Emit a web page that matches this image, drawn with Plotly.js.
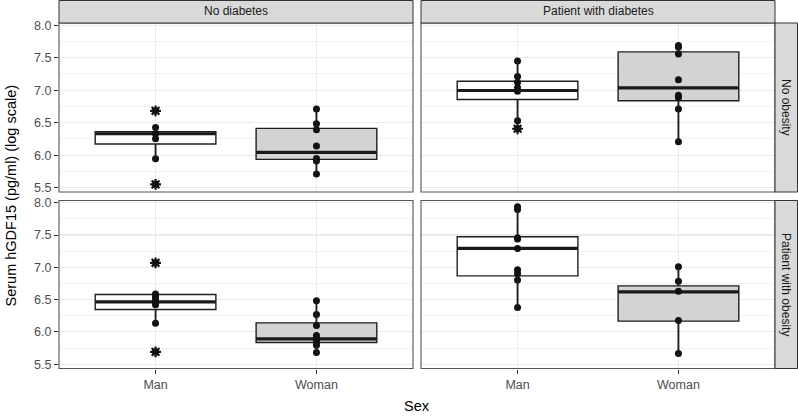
<!DOCTYPE html>
<html>
<head>
<meta charset="utf-8">
<script src="https://cdn.plot.ly/plotly-3.0.1.min.js"></script>
<style>html,body{margin:0;padding:0;background:#fff;}#chart{width:798px;height:416px;}</style>
</head>
<body>
<div id="chart"></div>
<script>
// ---------- data ----------
const sexes = ['Man', 'Woman'];
const diabetesGroups = ['No diabetes', 'Patient with diabetes'];
const obesityGroups = ['No obesity', 'Patient with obesity'];
const yTickValues = [5.5, 6.0, 6.5, 7.0, 7.5, 8.0];

// individual observations, per facet and sex
const noDiabNoObesMan   = [6.683, 6.427, 6.330, 6.253, 5.945, 5.551];
const noDiabNoObesWoman = [6.709, 6.483, 6.391, 6.140, 5.950, 5.910, 5.710];
const diabNoObesMan     = [7.451, 7.211, 7.124, 7.037, 6.986, 6.530, 6.407];
const diabNoObesWoman   = [7.688, 7.662, 7.559, 7.160, 6.924, 6.889, 6.709, 6.207];
const noDiabObesMan     = [7.070, 6.585, 6.555, 6.520, 6.476, 6.440, 6.419, 6.135, 5.690];
const noDiabObesWoman   = [6.481, 6.270, 6.100, 5.945, 5.910, 5.870, 5.830, 5.795, 5.681];
const diabObesMan       = [7.938, 7.897, 7.460, 7.437, 7.290, 6.962, 6.905, 6.802, 6.378];
const diabObesWoman     = [7.008, 6.786, 6.631, 6.177, 5.665];

// box statistics, same order as the groups above
const boxQ1     = [6.171, 5.936, 6.858, 6.837, 6.347, 5.836, 6.868, 6.166];
const boxMedian = [6.330, 6.043, 6.996, 7.037, 6.465, 5.892, 7.293, 6.620];
const boxQ3     = [6.361, 6.412, 7.139, 7.590, 6.580, 6.140, 7.473, 6.713];
const boxLower  = [5.945, 5.710, 6.530, 6.207, 6.135, 5.681, 6.378, 5.665];
const boxUpper  = [6.427, 6.709, 7.451, 7.688, 6.585, 6.481, 7.938, 7.008];

const groupPoints = [noDiabNoObesMan, noDiabNoObesWoman, diabNoObesMan, diabNoObesWoman,
                     noDiabObesMan, noDiabObesWoman, diabObesMan, diabObesWoman];

// ---------- styling ----------
const W = 798, H = 416;
const FONT = 'Liberation Sans, Arial, Helvetica, sans-serif';
const px = v => v / W;
const py = v => 1 - v / H;
const colL = [59, 413], colR = [421, 775];
const rowT = [23, 192], rowB = [200.5, 368.5];
const panels = [
  {xa: 'x',  ya: 'y',  col: colL, row: rowT},
  {xa: 'x2', ya: 'y2', col: colR, row: rowT},
  {xa: 'x3', ya: 'y3', col: colL, row: rowB},
  {xa: 'x4', ya: 'y4', col: colR, row: rowB}
];
const fills = ['#ffffff', '#d3d3d3'];
const boxWidth = 0.75;
const inkLine = '#1e1e1e';

const traces = [];
const shapes = [];
const annotations = [];

groupPoints.forEach((pts, i) => {
  const p = panels[Math.floor(i / 2)];
  const pos = (i % 2) + 1;
  traces.push({
    type: 'box', x: [pos], q1: [boxQ1[i]], median: [boxMedian[i]], q3: [boxQ3[i]],
    lowerfence: [boxLower[i]], upperfence: [boxUpper[i]],
    width: boxWidth, whiskerwidth: 0, boxpoints: false,
    fillcolor: fills[i % 2], line: {color: inkLine, width: 1.4},
    xaxis: p.xa, yaxis: p.ya, showlegend: false, hoverinfo: 'skip'
  });
  // whiskers as line shapes tied to the data axes
  [[boxLower[i], boxQ1[i]], [boxQ3[i], boxUpper[i]]].forEach(seg => {
    shapes.push({type: 'line', xref: p.xa, yref: p.ya, x0: pos, x1: pos, y0: seg[0], y1: seg[1],
      line: {color: inkLine, width: 1.6}, layer: 'above'});
  });
  // thick median
  traces.push({
    type: 'scatter', mode: 'lines',
    x: [pos - boxWidth / 2, pos + boxWidth / 2], y: [boxMedian[i], boxMedian[i]],
    line: {color: '#1a1a1a', width: 3.2},
    xaxis: p.xa, yaxis: p.ya, showlegend: false, hoverinfo: 'skip'
  });
  // outliers (outside the whiskers)
  const outs = pts.filter(v => v > boxUpper[i] + 1e-9 || v < boxLower[i] - 1e-9);
  if (outs.length) {
    traces.push({
      type: 'scatter', mode: 'markers', x: outs.map(() => pos), y: outs,
      marker: {symbol: 'asterisk-open', size: 9, color: '#111', line: {color: '#111', width: 2.2}},
      xaxis: p.xa, yaxis: p.ya, showlegend: false, hoverinfo: 'skip'
    });
  }
  // all observations
  traces.push({
    type: 'scatter', mode: 'markers', x: pts.map(() => pos), y: pts,
    marker: {color: '#111', size: 7},
    xaxis: p.xa, yaxis: p.ya, showlegend: false, hoverinfo: 'skip'
  });
});

const tickFont = {family: FONT, size: 12.5, color: '#4d4d4d'};
function xAxis(p, bottom) {
  return {
    domain: [px(p.col[0]), px(p.col[1])], anchor: p.ya, type: 'linear',
    range: [0.4, 2.6], tickvals: [1, 2], ticktext: sexes,
    showgrid: true, gridcolor: '#ebebeb', gridwidth: 1.1, zeroline: false, showline: false,
    ticks: bottom ? 'outside' : '', ticklen: 4, tickcolor: '#333', tickwidth: 1,
    showticklabels: bottom, tickfont: tickFont, fixedrange: true
  };
}
function yAxis(p, left) {
  return {
    domain: [py(p.row[1]), py(p.row[0])], anchor: p.xa,
    range: [5.433, 8.035], tickvals: yTickValues, ticktext: yTickValues.map(v => v.toFixed(1)),
    showgrid: true, gridcolor: '#ebebeb', gridwidth: 1.1, zeroline: false, showline: false,
    minor: {tick0: 5.25, dtick: 0.5, showgrid: true, gridcolor: '#f0f0f0', gridwidth: 0.8, ticks: ''},
    ticks: left ? 'outside' : '', ticklen: 4, tickcolor: '#333', tickwidth: 1,
    showticklabels: left, tickfont: tickFont, fixedrange: true
  };
}

panels.forEach(p => {
  shapes.push({type: 'rect', xref: 'paper', yref: 'paper',
    x0: px(p.col[0]), x1: px(p.col[1]), y0: py(p.row[1]), y1: py(p.row[0]),
    line: {color: '#555', width: 1.1}, fillcolor: 'rgba(0,0,0,0)', layer: 'above'});
});
// top strips
[colL, colR].forEach((c, j) => {
  shapes.push({type: 'rect', xref: 'paper', yref: 'paper',
    x0: px(c[0]), x1: px(c[1]), y0: py(rowT[0]), y1: py(0.5),
    line: {color: '#333', width: 1}, fillcolor: '#d9d9d9', layer: 'above'});
  annotations.push({xref: 'paper', yref: 'paper', x: px((c[0] + c[1]) / 2), y: py(11.5),
    text: diabetesGroups[j], showarrow: false, xanchor: 'center', yanchor: 'middle',
    font: {family: FONT, size: 12, color: '#1a1a1a'}});
});
// right strips
[rowT, rowB].forEach((r, j) => {
  shapes.push({type: 'rect', xref: 'paper', yref: 'paper',
    x0: px(775), x1: px(797.5), y0: py(r[1]), y1: py(r[0]),
    line: {color: '#333', width: 1}, fillcolor: '#d9d9d9', layer: 'above'});
  annotations.push({xref: 'paper', yref: 'paper', x: px(786.5), y: py((r[0] + r[1]) / 2),
    text: obesityGroups[j], showarrow: false, textangle: 90, xanchor: 'center', yanchor: 'middle',
    font: {family: FONT, size: 12, color: '#1a1a1a'}});
});
// axis titles
annotations.push({xref: 'paper', yref: 'paper', x: px(10), y: py(195.5),
  text: 'Serum hGDF15 (pg/ml) (log scale)', showarrow: false, textangle: -90,
  xanchor: 'center', yanchor: 'middle', font: {family: FONT, size: 14.5, color: '#000'}});
annotations.push({xref: 'paper', yref: 'paper', x: px(417), y: py(406),
  text: 'Sex', showarrow: false, xanchor: 'center', yanchor: 'middle',
  font: {family: FONT, size: 14.5, color: '#000'}});

const layout = {
  width: W, height: H, margin: {l: 0, r: 0, t: 0, b: 0},
  paper_bgcolor: '#fff', plot_bgcolor: '#fff', showlegend: false,
  font: {family: FONT},
  xaxis: xAxis(panels[0], false), xaxis2: xAxis(panels[1], false),
  xaxis3: xAxis(panels[2], true), xaxis4: xAxis(panels[3], true),
  yaxis: yAxis(panels[0], true), yaxis2: yAxis(panels[1], false),
  yaxis3: yAxis(panels[2], true), yaxis4: yAxis(panels[3], false),
  shapes: shapes, annotations: annotations
};

Plotly.newPlot('chart', traces, layout, {staticPlot: true, displayModeBar: false});
</script>
</body>
</html>
